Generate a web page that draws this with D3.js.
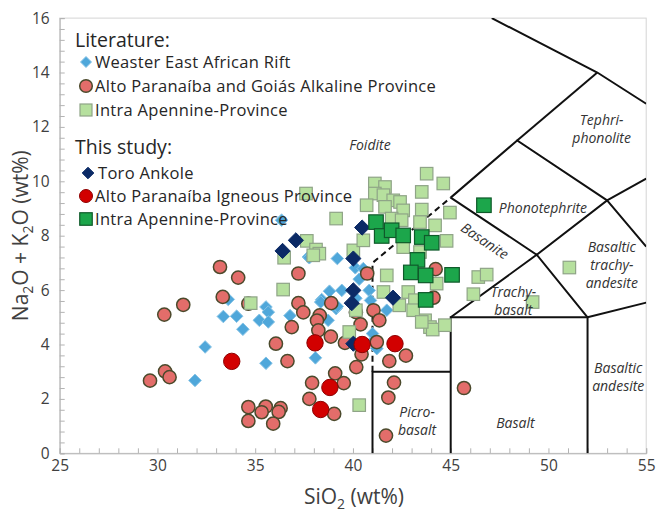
<!DOCTYPE html>
<html>
<head>
<meta charset="utf-8">
<script src="https://cdn.jsdelivr.net/npm/d3@7"></script>
<style>
  body { margin: 0; background: #fff; }
  svg { display: block; font-family: "Open Sans", "Liberation Sans", Arial, sans-serif; }
</style>
</head>
<body>
<svg id="chart" width="656" height="517"></svg>
<script>
// Axis ticks
const xTicks = [25, 30, 35, 40, 45, 50, 55];
const yTicks = [0, 2, 4, 6, 8, 10, 12, 14, 16];

// Literature: Weaster East African Rift [SiO2, Na2O+K2O]
const riftLit = [
  [31.92, 2.68], [32.44, 3.91], [33.37, 5.03], [34.05, 5.04], [34.37, 4.56],
  [33.62, 5.66], [35.55, 5.38], [35.67, 5.19], [35.21, 4.89], [35.67, 4.83],
  [36.78, 5.06], [35.55, 3.31], [38.08, 3.51], [38.40, 5.65], [38.80, 5.96],
  [39.43, 5.99], [39.20, 7.16], [38.73, 4.89], [39.14, 5.32], [37.72, 7.22],
  [40.12, 6.82], [36.35, 8.57], [37.77, 7.19], [40.83, 5.99], [40.90, 5.62],
  [41.73, 5.26], [41.05, 4.15], [41.22, 3.85], [41.00, 4.40], [40.53, 6.79],
  [40.32, 6.40], [40.15, 5.70], [39.20, 5.40], [38.35, 5.56]
];

// Literature: Alto Paranaíba and Goiás Alkaline Province
const altoLit = [
  [33.20, 6.85], [34.13, 6.46], [31.32, 5.46], [30.35, 5.10], [33.34, 5.75],
  [34.65, 5.50], [37.21, 6.61], [37.21, 5.52], [37.46, 5.18], [36.87, 4.64],
  [36.06, 4.03], [36.65, 3.39], [38.30, 5.07], [38.16, 4.88], [38.89, 5.52],
  [38.23, 4.52], [38.87, 4.29], [39.59, 4.06], [40.17, 3.17], [39.09, 2.94],
  [39.53, 2.58], [37.91, 2.59], [37.77, 2.00], [39.04, 1.45], [30.39, 3.01],
  [30.62, 2.80], [29.62, 2.67], [34.65, 1.70], [35.54, 1.72], [35.33, 1.51],
  [34.65, 1.19], [36.30, 1.66], [36.20, 1.52], [35.92, 1.09], [40.73, 6.61],
  [44.23, 6.77], [44.12, 5.72], [40.15, 5.19], [41.05, 5.26], [40.39, 4.74],
  [41.35, 4.89], [40.44, 3.64], [41.86, 3.39], [42.71, 3.59], [42.10, 2.60],
  [41.81, 2.05], [41.69, 0.65], [45.68, 2.40], [41.22, 4.09]
];

// Literature: Intra Apennine-Province
const iapLit = [
  [37.60, 9.55], [39.14, 8.63], [37.64, 7.81], [38.11, 7.49], [38.28, 7.34],
  [37.97, 7.28], [36.48, 7.19], [36.43, 6.02], [40.02, 7.46], [40.15, 5.26],
  [39.81, 4.46], [40.32, 1.77], [34.77, 5.52], [43.77, 10.28], [44.62, 9.92],
  [41.12, 9.92], [41.64, 9.79], [41.12, 9.55], [41.56, 9.49], [42.06, 9.30],
  [42.41, 9.24], [43.52, 9.61], [40.70, 9.12], [41.64, 9.06], [42.57, 8.93],
  [43.52, 8.96], [44.96, 8.85], [41.98, 8.63], [42.49, 8.57], [43.43, 8.50],
  [44.20, 8.38], [44.79, 7.81], [42.57, 7.58], [40.53, 7.83], [41.73, 6.54],
  [41.56, 5.93], [42.37, 5.44], [42.83, 5.93], [43.17, 5.63], [43.69, 4.89],
  [43.94, 4.64], [44.08, 4.55], [44.70, 4.71], [46.16, 5.85], [46.41, 6.48],
  [46.84, 6.57], [51.07, 6.83], [49.19, 5.56], [43.43, 7.40], [44.28, 6.24],
  [43.08, 5.26], [43.52, 4.83]
];

// This study: Toro Ankole
const toroStudy = [
  [36.40, 7.44], [37.08, 7.83], [40.02, 7.16], [40.47, 8.30], [40.02, 5.99],
  [39.94, 5.52], [40.02, 4.03], [42.05, 5.72]
];

// This study: Alto Paranaíba Igneous Province
const altoStudy = [
  [33.80, 3.38], [38.06, 4.06], [38.82, 2.42], [38.35, 1.61], [40.47, 4.00],
  [42.15, 4.03]
];

// This study: Intra Apennine-Province
const iapStudy = [
  [41.18, 8.50], [41.47, 7.99], [41.98, 8.20], [42.57, 8.01], [43.52, 7.95],
  [44.03, 7.74], [43.30, 7.11], [42.96, 6.65], [43.72, 6.54], [45.07, 6.56],
  [43.72, 5.64], [46.70, 9.12]
];

// TAS field boundaries (solid) and the dashed foidite limit
const tasSolid = [
  [[41, 0], [41, 3], [45, 3]],
  [[45, 0], [45, 5], [52, 5], [52, 0]],
  [[45, 5], [49.4, 7.3], [52, 5]],
  [[52, 5], [55, 5.54]],
  [[45, 9.4], [49.4, 7.3], [53, 9.3], [55, 7.6]],
  [[45, 9.4], [48.4, 11.5], [53, 9.3]],
  [[53, 9.3], [55, 10.1]],
  [[48.4, 11.5], [52.5, 14]],
  [[47.1, 16], [52.5, 14], [55, 12.85]]
];
const tasDashed = [[41, 3], [41, 7], [45, 9.4]];

// Field names: [lines, SiO2, total at first baseline]
const fieldLabels = [
  [["Foidite"], 40.87, 11.14],
  [["Tephri-", "phonolite"], 52.72, 12.06],
  [["Phonotephrite"], 49.72, 8.82],
  [["Trachy-", "basalt"], 48.2, 5.75],
  [["Basaltic", "trachy-", "andesite"], 53.24, 7.41],
  [["Basaltic", "andesite"], 53.57, 2.94],
  [["Picro-", "basalt"], 43.28, 1.34],
  [["Basalt"], 48.31, 0.92]
];

const svg = d3.select("#chart");
const plot = { left: 59.7, right: 646.2, top: 18.1, bottom: 453.3 };
const x = d3.scaleLinear().domain([25, 55]).range([plot.left, plot.right]);
const y = d3.scaleLinear().domain([0, 16]).range([plot.bottom, plot.top]);

svg.append("defs").append("clipPath").attr("id", "plotClip")
  .append("rect")
  .attr("x", plot.left).attr("y", plot.top)
  .attr("width", plot.right - plot.left).attr("height", plot.bottom - plot.top);

// Frame
svg.append("rect")
  .attr("x", plot.left).attr("y", plot.top)
  .attr("width", plot.right - plot.left).attr("height", plot.bottom - plot.top)
  .attr("fill", "none").attr("stroke", "#d4d4d4").attr("stroke-width", 1);

// Minor ticks pointing inward
const xMinor = d3.axisBottom(x).tickValues(d3.range(25, 55.01, 1))
  .tickSize(-5).tickFormat("");
const gxm = svg.append("g").attr("transform", `translate(0,${plot.bottom})`).call(xMinor);
gxm.selectAll("line").attr("stroke", "#b3b3b3");
gxm.select(".domain").attr("stroke", "#b3b3b3");

const yMinor = d3.axisLeft(y).tickValues(d3.range(0, 16.01, 0.4))
  .tickSize(-5).tickFormat("");
const gym = svg.append("g").attr("transform", `translate(${plot.left},0)`).call(yMinor);
gym.selectAll("line").attr("stroke", "#b3b3b3");
gym.select(".domain").attr("stroke", "#b3b3b3");

// Tick labels
const gxl = svg.append("g").attr("transform", `translate(0,${plot.bottom})`)
  .call(d3.axisBottom(x).tickValues(xTicks).tickSize(0).tickPadding(7));
gxl.select(".domain").remove();
gxl.selectAll("text").attr("font-size", 15.5).attr("fill", "#404040")
  .attr("font-family", "Open Sans, Liberation Sans, Arial, sans-serif");

const gyl = svg.append("g").attr("transform", `translate(${plot.left},0)`)
  .call(d3.axisLeft(y).tickValues(yTicks).tickSize(0).tickPadding(10));
gyl.select(".domain").remove();
gyl.selectAll("text").attr("font-size", 15.5).attr("fill", "#404040")
  .attr("font-family", "Open Sans, Liberation Sans, Arial, sans-serif");

// Axis titles
const xt = svg.append("text").attr("x", 354).attr("y", 504)
  .attr("text-anchor", "middle").attr("font-size", 21).attr("fill", "#404040");
xt.append("tspan").text("SiO");
xt.append("tspan").attr("font-size", 14).attr("dy", 5).text("2");
xt.append("tspan").attr("dy", -5).text(" (wt%)");

const yt = svg.append("text")
  .attr("transform", `translate(28,${(plot.top + plot.bottom) / 2}) rotate(-90)`)
  .attr("text-anchor", "middle").attr("font-size", 21).attr("fill", "#404040");
yt.append("tspan").text("Na");
yt.append("tspan").attr("font-size", 14).attr("dy", 5).text("2");
yt.append("tspan").attr("dy", -5).text("O + K");
yt.append("tspan").attr("font-size", 14).attr("dy", 5).text("2");
yt.append("tspan").attr("dy", -5).text("O (wt%)");

// Field boundaries
const line = d3.line().x(d => x(d[0])).y(d => y(d[1]));
const gb = svg.append("g").attr("clip-path", "url(#plotClip)");
gb.selectAll("path.solid").data(tasSolid).join("path")
  .attr("class", "solid").attr("d", line)
  .attr("fill", "none").attr("stroke", "#111").attr("stroke-width", 2)
  .attr("stroke-linejoin", "miter");
gb.append("path").datum(tasDashed).attr("d", line)
  .attr("fill", "none").attr("stroke", "#111").attr("stroke-width", 2)
  .attr("stroke-dasharray", "6,4");

// Marker helpers
const diamondPath = h => `M0,${-h}L${h},0L0,${h}L${-h},0Z`;
const pts = svg.append("g");
function diamonds(data, h, fill, stroke, sw) {
  pts.append("g").selectAll("path").data(data).join("path")
    .attr("transform", d => `translate(${x(d[0])},${y(d[1])})`)
    .attr("d", diamondPath(h)).attr("fill", fill).attr("stroke", stroke).attr("stroke-width", sw);
}
function circles(data, r, fill, stroke, sw) {
  pts.append("g").selectAll("circle").data(data).join("circle")
    .attr("cx", d => x(d[0])).attr("cy", d => y(d[1])).attr("r", r)
    .attr("fill", fill).attr("stroke", stroke).attr("stroke-width", sw);
}
function squares(data, s, fill, stroke, sw) {
  pts.append("g").selectAll("rect").data(data).join("rect")
    .attr("x", d => x(d[0]) - s / 2).attr("y", d => y(d[1]) - s / 2)
    .attr("width", s).attr("height", s)
    .attr("fill", fill).attr("stroke", stroke).attr("stroke-width", sw);
}

const styles = {
  riftLit: ["#4fa7da", "#86c3e6", 1],
  altoLit: ["#e36d6a", "#4b4a2c", 1.5],
  iapLit: ["#b6e09e", "#8fa487", 1.2],
  toroStudy: ["#0b2a66", "#0b2a66", 1],
  altoStudy: ["#d20000", "#8e0000", 1],
  iapStudy: ["#1ca64b", "#0f5a2a", 1.2]
};

diamonds(riftLit, 6.3, ...styles.riftLit);
circles(altoLit, 6.6, ...styles.altoLit);
squares(iapLit, 12.5, ...styles.iapLit);
diamonds(toroStudy, 7.6, ...styles.toroStudy);
circles(altoStudy, 8.2, ...styles.altoStudy);
squares(iapStudy, 14.5, ...styles.iapStudy);

// Field names
const gl = svg.append("g").attr("font-style", "italic").attr("font-size", 14).attr("fill", "#333");
fieldLabels.forEach(([lines, sx, sy]) => {
  const t = gl.append("text").attr("x", x(sx)).attr("y", y(sy)).attr("text-anchor", "middle");
  lines.forEach((s, i) => t.append("tspan").attr("x", x(sx)).attr("dy", i ? 18 : 0).text(s));
});
const bAngle = Math.atan2(y(7.3) - y(9.4), x(49.4) - x(45)) * 180 / Math.PI;
gl.append("text").attr("text-anchor", "middle").attr("dominant-baseline", "middle")
  .attr("transform", `translate(484,242) rotate(${bAngle})`).text("Basanite");

// Legend
const lg = svg.append("g").attr("fill", "#262626");
lg.append("text").attr("x", 75).attr("y", 47).attr("font-size", 19.5).text("Literature:");
lg.append("text").attr("x", 75).attr("y", 154).attr("font-size", 19.5).text("This study:");
const legendItems = [
  ["diamond", styles.riftLit, 5.5, 86, 62, 95, "Weaster East African Rift"],
  ["circle", styles.altoLit, 6.3, 86, 86, 95, "Alto Paranaíba and Goiás Alkaline Province"],
  ["square", styles.iapLit, 12, 86, 110, 95, "Intra Apennine-Province"],
  ["diamond", styles.toroStudy, 5.8, 88, 173, 98, "Toro Ankole"],
  ["circle", styles.altoStudy, 6.5, 86, 196, 95, "Alto Paranaíba Igneous Province"],
  ["square", styles.iapStudy, 12.5, 86, 219, 95, "Intra Apennine-Province"]
];
legendItems.forEach(([shape, st, sz, mx, my, tx, label]) => {
  if (shape === "diamond") {
    lg.append("path").attr("transform", `translate(${mx},${my})`).attr("d", diamondPath(sz))
      .attr("fill", st[0]).attr("stroke", st[1]).attr("stroke-width", st[2]);
  } else if (shape === "circle") {
    lg.append("circle").attr("cx", mx).attr("cy", my).attr("r", sz)
      .attr("fill", st[0]).attr("stroke", st[1]).attr("stroke-width", st[2]);
  } else {
    lg.append("rect").attr("x", mx - sz / 2).attr("y", my - sz / 2).attr("width", sz).attr("height", sz)
      .attr("fill", st[0]).attr("stroke", st[1]).attr("stroke-width", st[2]);
  }
  lg.append("text").attr("x", tx).attr("y", my + 6).attr("font-size", 16.5)
    .attr("letter-spacing", 0.3).text(label);
});
</script>
</body>
</html>
